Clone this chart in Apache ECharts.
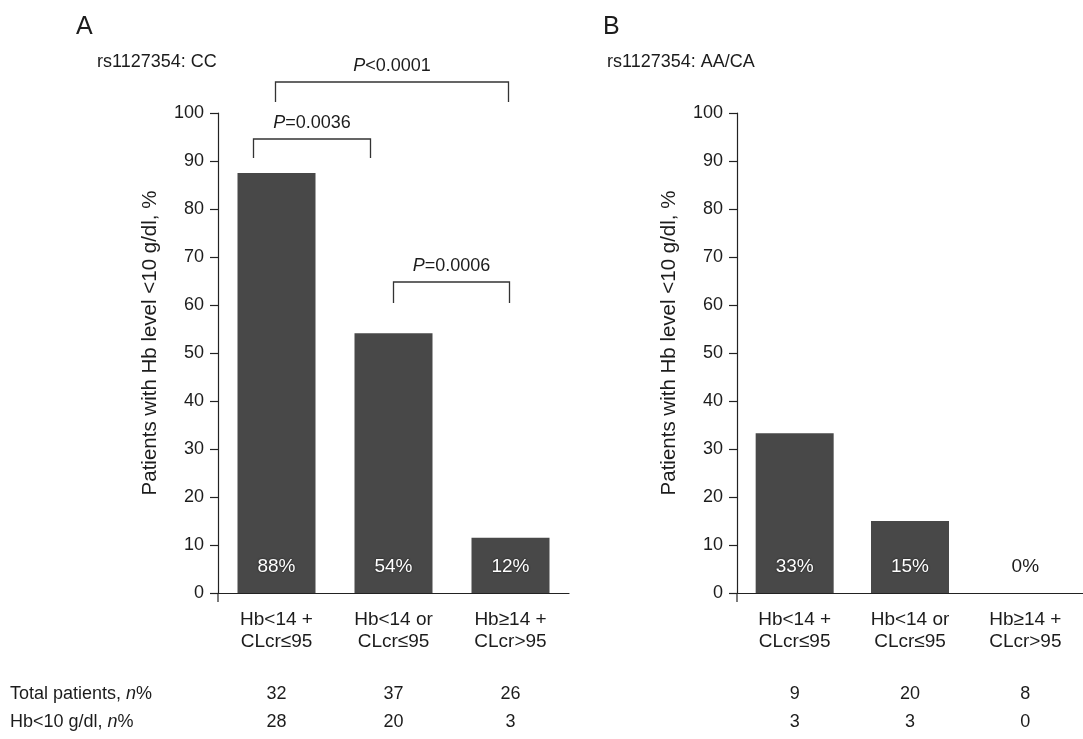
<!DOCTYPE html>
<html>
<head>
<meta charset="utf-8">
<script src="https://cdn.jsdelivr.net/npm/echarts@6/dist/echarts.min.js"></script>
<style>
html,body{margin:0;padding:0;background:#fff;}
#chart{width:1083px;height:739px;}
</style>
</head>
<body>
<div id="chart"></div>
<script>
// ---- data ----
const categories = ['Hb<14 +\nCLcr≤95', 'Hb<14 or\nCLcr≤95', 'Hb≥14 +\nCLcr>95'];
const valuesA = [87.5, 54.1, 11.5];
const valuesB = [33.3, 15, 0];
const totalPatientsA = [32, 37, 26];
const hbBelow10A = [28, 20, 3];
const totalPatientsB = [9, 20, 8];
const hbBelow10B = [3, 3, 0];
const yMin = 0, yMax = 100, yStep = 10;
const panelLetters = ['A', 'B'];
const panelTitles = ['rs1127354: CC', 'rs1127354: AA/CA'];
const yAxisName = 'Patients with Hb level <10 g/dl, %';
const rowLabels = ['Total patients, ', 'Hb<10 g/dl, '];
// comparisons in panel A: [fromCategoryIndex, toCategoryIndex, operator, p-value]
const comparisonsA = [
  [0, 2, '<', '0.0001'],
  [0, 1, '=', '0.0036'],
  [1, 2, '=', '0.0006']
];

// ---- chart ----
const FONT = 'Liberation Sans, Arial, Helvetica, sans-serif';
const TXT = '#1c1c1c';
const chart = echarts.init(document.getElementById('chart'), null, {renderer: 'canvas'});

function yAxisCfg(gi) {
  return {
    type: 'value', gridIndex: gi, min: yMin, max: yMax, interval: yStep,
    name: yAxisName, nameLocation: 'middle', nameRotate: 90, nameGap: 57,
    nameTextStyle: {fontFamily: FONT, fontSize: 20.5, color: TXT, padding: [0, 0, 0, 20]},
    axisLine: {show: true, lineStyle: {color: '#222', width: 1.2}},
    axisTick: {show: true, length: 8, lineStyle: {color: '#222', width: 1.2}},
    axisLabel: {fontFamily: FONT, fontSize: 18, color: TXT, margin: 14},
    splitLine: {show: false}
  };
}
function xAxisCfg(gi) {
  return {
    type: 'category', gridIndex: gi, data: categories,
    axisLine: {show: true, lineStyle: {color: '#222', width: 1.2}},
    axisTick: {show: false},
    axisLabel: {fontFamily: FONT, fontSize: 19, color: TXT, lineHeight: 22, margin: 16, interval: 0}
  };
}
function barData(vals) {
  return vals.map(v => v === 0
    ? {value: v, label: {color: TXT, textShadowBlur: 0, textShadowColor: 'transparent'}}
    : v);
}
function seriesCfg(gi, vals) {
  return {
    type: 'bar', xAxisIndex: gi, yAxisIndex: gi, data: barData(vals),
    barWidth: 78,
    itemStyle: {color: '#484848'},
    label: {
      show: true, position: 'insideBottom', distance: 17,
      formatter: p => Math.round(p.value) + '%',
      fontFamily: FONT, fontSize: 19, fontWeight: 'normal', color: '#fff',
      textBorderWidth: 0,
      textShadowColor: '#111', textShadowBlur: 2
    }
  };
}

chart.setOption({
  backgroundColor: '#fff',
  animation: false,
  grid: [
    {left: 218, top: 113, width: 351, height: 480},
    {left: 737, top: 113, width: 354, height: 480}
  ],
  xAxis: [xAxisCfg(0), xAxisCfg(1)],
  yAxis: [yAxisCfg(0), yAxisCfg(1)],
  series: [seriesCfg(0, valuesA), seriesCfg(1, valuesB)]
});

// ---- annotations (positions derived from the axes) ----
const g = [];
const richP = {i: {fontStyle: 'italic', fontFamily: FONT, fontSize: 18, fill: TXT}};
function txt(x, y, text, opts) {
  g.push(Object.assign({
    type: 'text', x: x, y: y,
    style: Object.assign({text: text, fontFamily: FONT, fontSize: 18, fill: TXT, align: 'left', verticalAlign: 'middle'}, opts || {})
  }));
}
const letterX = [76, 603];
const titleX = [97, 607];
for (let k = 0; k < 2; k++) {
  txt(letterX[k], 27, panelLetters[k], {fontSize: 25});
  txt(titleX[k], 62, panelTitles[k]);
}

function cx(gi, idx) { return chart.convertToPixel({xAxisIndex: gi}, idx); }
function cy(gi, val) { return chart.convertToPixel({yAxisIndex: gi}, val); }

// small extension of the y axis line below the baseline
for (let k = 0; k < 2; k++) {
  const ax = chart.convertToPixel({gridIndex: k}, [0, 0]);
  const x0 = chart.getModel().getComponent('grid', k).coordinateSystem.getRect().x;
  const y0 = cy(k, 0);
  g.push({type: 'line', shape: {x1: x0, y1: y0, x2: x0, y2: y0 + 9}, style: {stroke: '#222', lineWidth: 1.2}});
}

// brackets
const bracketGeom = [
  {dx0: -1, dx1: -2, y: 82, leg: 20},
  {dx0: -23, dx1: -23, y: 139, leg: 19},
  {dx0: 0, dx1: -1, y: 282, leg: 21}
];
comparisonsA.forEach((c, k) => {
  const gm = bracketGeom[k];
  const x0 = cx(0, c[0]) + gm.dx0, x1 = cx(0, c[1]) + gm.dx1;
  g.push({
    type: 'polyline',
    shape: {points: [[x0, gm.y + gm.leg], [x0, gm.y], [x1, gm.y], [x1, gm.y + gm.leg]]},
    style: {stroke: '#333', lineWidth: 1.3, fill: null}
  });
  g.push({
    type: 'text', x: (x0 + x1) / 2, y: gm.y - 16,
    style: {text: '{i|P}' + c[2] + c[3], rich: richP, fontFamily: FONT, fontSize: 18, fill: TXT, align: 'center', verticalAlign: 'middle'}
  });
});

// table rows
const rowY = [694, 722];
rowLabels.forEach((lab, r) => {
  g.push({
    type: 'text', x: 10, y: rowY[r],
    style: {text: lab + '{i|n}%', rich: richP, fontFamily: FONT, fontSize: 18, fill: TXT, align: 'left', verticalAlign: 'middle'}
  });
});
const tableA = [totalPatientsA, hbBelow10A];
const tableB = [totalPatientsB, hbBelow10B];
for (let r = 0; r < 2; r++) {
  for (let i = 0; i < categories.length; i++) {
    txt(cx(0, i), rowY[r], String(tableA[r][i]), {align: 'center'});
    txt(cx(1, i), rowY[r], String(tableB[r][i]), {align: 'center'});
  }
}

chart.setOption({graphic: {elements: g}});
</script>
</body>
</html>
